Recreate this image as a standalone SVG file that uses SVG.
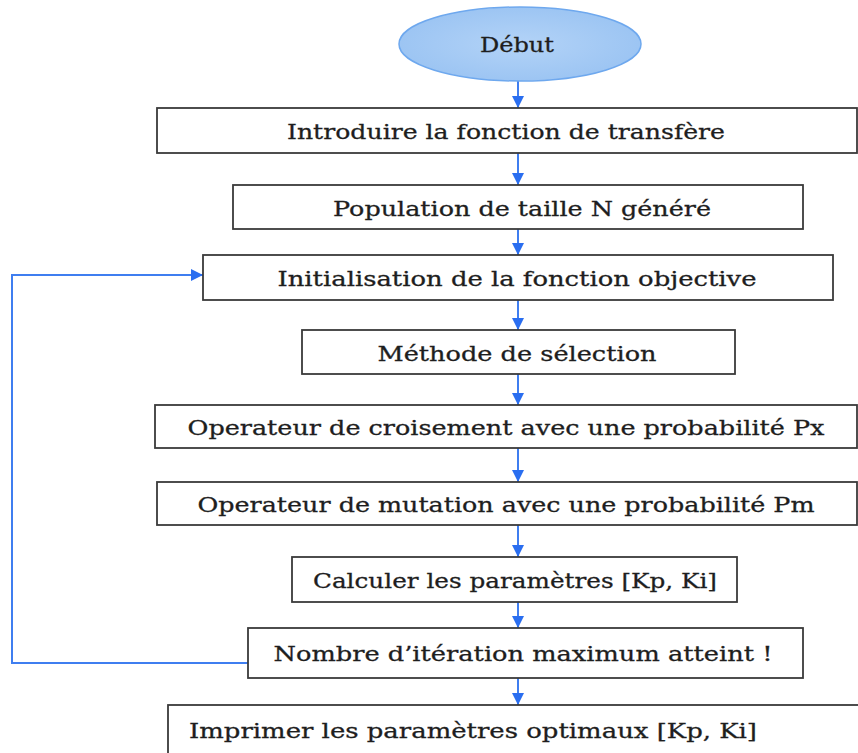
<svg xmlns="http://www.w3.org/2000/svg" width="858" height="753" viewBox="0 0 858 753">
  <style>
    .box { fill: #ffffff; stroke: #3a3a3a; stroke-width: 1.8; }
    .lbl { font-family: "DejaVu Serif", "Liberation Serif", serif; font-size: 21px; fill: #1e1e1e; stroke: #1e1e1e; stroke-width: 0.3; text-anchor: middle; }
    .flow { fill: none; stroke: #3f7ef0; stroke-width: 2; }
  </style>
  <defs>
    <marker id="arrow" markerUnits="userSpaceOnUse" markerWidth="14" markerHeight="14" refX="12" refY="6" orient="auto">
      <path d="M0,0 L12,6 L0,12 Z" fill="#2a6ef0"/>
    </marker>
    <radialGradient id="startFill" cx="50%" cy="50%" r="60%">
      <stop offset="0%" stop-color="#b3d3f7"/>
      <stop offset="100%" stop-color="#98c2f2"/>
    </radialGradient>
  </defs>

  <!-- connectors -->
  <g id="connectors">
    <line class="flow" x1="518" y1="81" x2="518" y2="108" marker-end="url(#arrow)"/>
    <line class="flow" x1="518" y1="153" x2="518" y2="185" marker-end="url(#arrow)"/>
    <line class="flow" x1="518" y1="229" x2="518" y2="255" marker-end="url(#arrow)"/>
    <line class="flow" x1="518" y1="300" x2="518" y2="330" marker-end="url(#arrow)"/>
    <line class="flow" x1="518" y1="374" x2="518" y2="405" marker-end="url(#arrow)"/>
    <line class="flow" x1="518" y1="448" x2="518" y2="482" marker-end="url(#arrow)"/>
    <line class="flow" x1="518" y1="525" x2="518" y2="557" marker-end="url(#arrow)"/>
    <line class="flow" x1="518" y1="602" x2="518" y2="628" marker-end="url(#arrow)"/>
    <line class="flow" x1="518" y1="678" x2="518" y2="705" marker-end="url(#arrow)"/>
    <path class="flow" d="M248,663 H12 V275 H203" marker-end="url(#arrow)"/>
  </g>

  <!-- start -->
  <g id="start">
    <ellipse cx="520" cy="44" rx="121" ry="37" fill="url(#startFill)" stroke="#6ea8ee" stroke-width="1.5"/>
    <text class="lbl" x="517" y="52" textLength="74" lengthAdjust="spacingAndGlyphs">Début</text>
  </g>

  <g id="transfer">
    <rect class="box" x="157" y="108" width="700" height="45"/>
    <text class="lbl" x="506" y="139" textLength="438" lengthAdjust="spacingAndGlyphs">Introduire la fonction de transfère</text>
  </g>

  <g id="population">
    <rect class="box" x="233" y="185" width="570" height="44"/>
    <text class="lbl" x="522" y="216" textLength="378" lengthAdjust="spacingAndGlyphs">Population de taille N généré</text>
  </g>

  <g id="objective">
    <rect class="box" x="203" y="255" width="630" height="45"/>
    <text class="lbl" x="517" y="286" textLength="479" lengthAdjust="spacingAndGlyphs">Initialisation de la fonction objective</text>
  </g>

  <g id="selection">
    <rect class="box" x="302" y="330" width="433" height="44"/>
    <text class="lbl" x="517" y="361" textLength="279" lengthAdjust="spacingAndGlyphs">Méthode de sélection</text>
  </g>

  <g id="crossover">
    <rect class="box" x="155" y="405" width="702" height="43"/>
    <text class="lbl" x="506" y="435" textLength="637" lengthAdjust="spacingAndGlyphs">Operateur de croisement avec une probabilité Px</text>
  </g>

  <g id="mutation">
    <rect class="box" x="157" y="482" width="700" height="43"/>
    <text class="lbl" x="506" y="512" textLength="617" lengthAdjust="spacingAndGlyphs">Operateur de mutation avec une probabilité Pm</text>
  </g>

  <g id="compute">
    <rect class="box" x="292" y="557" width="445" height="45"/>
    <text class="lbl" x="515" y="588" textLength="404" lengthAdjust="spacingAndGlyphs">Calculer les paramètres [Kp, Ki]</text>
  </g>

  <g id="iterations">
    <rect class="box" x="248" y="628" width="555" height="50"/>
    <text class="lbl" x="523" y="661" textLength="499" lengthAdjust="spacingAndGlyphs">Nombre d’itération maximum atteint !</text>
  </g>

  <g id="output">
    <rect class="box" x="168" y="705" width="720" height="70"/>
    <text class="lbl" x="473" y="738" textLength="568" lengthAdjust="spacingAndGlyphs">Imprimer les paramètres optimaux [Kp, Ki]</text>
  </g>
</svg>
